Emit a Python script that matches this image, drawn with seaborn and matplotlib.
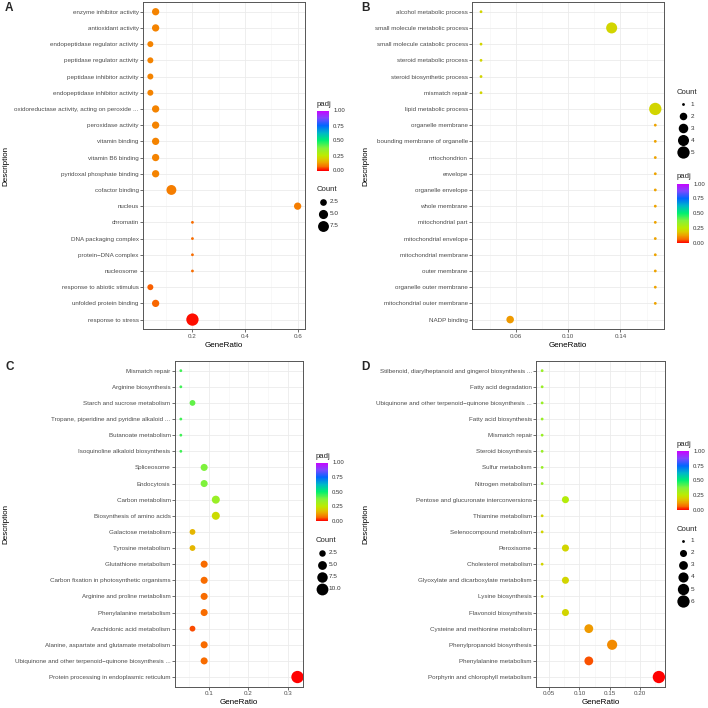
import numpy as np
import pandas as pd
import matplotlib
matplotlib.use('Agg')
import matplotlib.pyplot as plt
import seaborn as sns
from matplotlib.colors import LinearSegmentedColormap, Normalize
from matplotlib.lines import Line2D
from matplotlib.ticker import FixedLocator

# ---- data ----
terms_a = ["enzyme inhibitor activity", "antioxidant activity", "endopeptidase regulator activity",
           "peptidase regulator activity", "peptidase inhibitor activity", "endopeptidase inhibitor activity",
           "oxidoreductase activity, acting on peroxide ...", "peroxidase activity", "vitamin binding",
           "vitamin B6 binding", "pyridoxal phosphate binding", "cofactor binding", "nucleus", "chromatin",
           "DNA packaging complex", "protein\u2212DNA complex", "nucleosome", "response to abiotic stimulus",
           "unfolded protein binding", "response to stress"]
ratio_a = [0.06, 0.06, 0.04, 0.04, 0.04, 0.04, 0.06, 0.06, 0.06, 0.06, 0.06, 0.12, 0.6, 0.2,
           0.2, 0.2, 0.2, 0.04, 0.06, 0.2]
count_a = [3, 3, 2, 2, 2, 2, 3, 3, 3, 3, 3, 6, 3, 1, 1, 1, 1, 2, 3, 10]
padj_a = [0.09, 0.09, 0.09, 0.09, 0.09, 0.09, 0.09, 0.09, 0.09, 0.09, 0.09, 0.085, 0.085, 0.065,
          0.065, 0.065, 0.065, 0.055, 0.06, 0.01]

terms_b = ["alcohol metabolic process", "small molecule metabolic process", "small molecule catabolic process",
           "steroid metabolic process", "steroid biosynthetic process", "mismatch repair",
           "lipid metabolic process", "organelle membrane", "bounding membrane of organelle", "mitochondrion",
           "envelope", "organelle envelope", "whole membrane", "mitochondrial part", "mitochondrial envelope",
           "mitochondrial membrane", "outer membrane", "organelle outer membrane",
           "mitochondrial outer membrane", "NADP binding"]
ratio_b = [0.0333, 0.1333, 0.0333, 0.0333, 0.0333, 0.0333, 0.1667, 0.1667, 0.1667, 0.1667,
           0.1667, 0.1667, 0.1667, 0.1667, 0.1667, 0.1667, 0.1667, 0.1667, 0.1667, 0.0556]
count_b = [1, 4, 1, 1, 1, 1, 5, 1, 1, 1, 1, 1, 1, 1, 1, 1, 1, 1, 1, 2]
padj_b = [0.21, 0.21, 0.21, 0.21, 0.21, 0.21, 0.21, 0.13, 0.13, 0.13, 0.13, 0.13, 0.13, 0.13, 0.13,
          0.13, 0.13, 0.13, 0.13, 0.12]

terms_c = ["Mismatch repair", "Arginine biosynthesis", "Starch and sucrose metabolism",
           "Tropane, piperidine and pyridine alkaloid ...", "Butanoate metabolism",
           "Isoquinoline alkaloid biosynthesis", "Spliceosome", "Endocytosis", "Carbon metabolism",
           "Biosynthesis of amino acids", "Galactose metabolism", "Tyrosine metabolism",
           "Glutathione metabolism", "Carbon fixation in photosynthetic organisms",
           "Arginine and proline metabolism", "Phenylalanine metabolism", "Arachidonic acid metabolism",
           "Alanine, aspartate and glutamate metabolism",
           "Ubiquinone and other terpenoid\u2212quinone biosynthesis ...",
           "Protein processing in endoplasmic reticulum"]
ratio_c = [0.0294, 0.0294, 0.0588, 0.0294, 0.0294, 0.0294, 0.0882, 0.0882, 0.1176, 0.1176,
           0.0588, 0.0588, 0.0882, 0.0882, 0.0882, 0.0882, 0.0588, 0.0882, 0.0882, 0.3235]
count_c = [1, 1, 2, 1, 1, 1, 3, 3, 4, 4, 2, 2, 3, 3, 3, 3, 2, 3, 3, 11]
padj_c = [0.44, 0.44, 0.41, 0.44, 0.44, 0.44, 0.38, 0.38, 0.33, 0.22, 0.16, 0.16, 0.065, 0.065,
          0.065, 0.065, 0.045, 0.065, 0.065, 0.0]

terms_d = ["Stilbenoid, diarylheptanoid and gingerol biosynthesis ...", "Fatty acid degradation",
           "Ubiquinone and other terpenoid\u2212quinone biosynthesis ...", "Fatty acid biosynthesis",
           "Mismatch repair", "Steroid biosynthesis", "Sulfur metabolism", "Nitrogen metabolism",
           "Pentose and glucuronate interconversions", "Thiamine metabolism", "Selenocompound metabolism",
           "Peroxisome", "Cholesterol metabolism", "Glyoxylate and dicarboxylate metabolism",
           "Lysine biosynthesis", "Flavonoid biosynthesis", "Cysteine and methionine metabolism",
           "Phenylpropanoid biosynthesis", "Phenylalanine metabolism", "Porphyrin and chlorophyll metabolism"]
ratio_d = [0.0385, 0.0385, 0.0385, 0.0385, 0.0385, 0.0385, 0.0385, 0.0385, 0.0769, 0.0385,
           0.0385, 0.0769, 0.0385, 0.0769, 0.0385, 0.0769, 0.1154, 0.1538, 0.1154, 0.2308]
count_d = [1, 1, 1, 1, 1, 1, 1, 1, 2, 1, 1, 2, 1, 2, 1, 2, 3, 4, 3, 6]
padj_d = [0.33, 0.33, 0.33, 0.33, 0.33, 0.33, 0.33, 0.33, 0.27, 0.21, 0.21, 0.21, 0.21, 0.21, 0.21, 0.21,
          0.12, 0.10, 0.05, 0.0]

xticks_a = [0.2, 0.4, 0.6]
xticks_b = [0.06, 0.10, 0.14]
xticks_c = [0.1, 0.2, 0.3]
xticks_d = [0.05, 0.10, 0.15, 0.20]
xlabels_a = ['0.2', '0.4', '0.6']
xlabels_b = ['0.06', '0.10', '0.14']
xlabels_c = ['0.1', '0.2', '0.3']
xlabels_d = ['0.05', '0.10', '0.15', '0.20']

count_breaks_a = [2.5, 5.0, 7.5]
count_breaks_b = [1, 2, 3, 4, 5]
count_breaks_c = [2.5, 5.0, 7.5, 10.0]
count_breaks_d = [1, 2, 3, 4, 5, 6]
count_labels_a = ['2.5', '5.0', '7.5']
count_labels_b = ['1', '2', '3', '4', '5']
count_labels_c = ['2.5', '5.0', '7.5', '10.0']
count_labels_d = ['1', '2', '3', '4', '5', '6']

padj_ticks = [0, 0.25, 0.5, 0.75, 1.0]
padj_labels = ['0.00', '0.25', '0.50', '0.75', '1.00']

# ---- style ----
sns.set_theme(style='white')
plt.rcParams['font.family'] = ['Liberation Sans', 'DejaVu Sans']

W = H = 708
def fx(px):
    return px / W

def fy(py):
    return 1 - py / H

cmap = LinearSegmentedColormap.from_list('padj', [
    (0, '#FF0000'), (0.0625, '#F86C00'), (0.125, '#EEA000'), (0.1875, '#DCCB00'),
    (0.25, '#BDEB00'), (0.375, '#84F23A'), (0.5, '#00F070'), (0.625, '#00B8C8'),
    (0.75, '#0066FF'), (0.875, '#8048FF'), (1, '#CC00FF')])


def dot_px(v, lo, hi):
    # ggplot-like area scale, range 1..6
    return 1.9 * (1 + 5 * np.sqrt((v - lo) / (hi - lo))) + 0.9


fig = plt.figure(figsize=(7.08, 7.08), dpi=100)


def draw_panel(rect, letter, letter_xy, terms, ratio, count, padj, xticks, xlabels, ylab_x,
               cbar_box, cbar_title_y, count_title_xy, count_x, count_lab_x, count_y0, breaks, blabels):
    ax = fig.add_axes(rect)
    df = pd.DataFrame({'Description': terms, 'GeneRatio': ratio, 'Count': count, 'padj': padj})
    lo, hi = min(count), max(count)
    sizes = {c: (dot_px(c, lo, hi) * 0.72) ** 2 for c in set(count)}
    sns.scatterplot(data=df, x='GeneRatio', y='Description', hue='padj', palette=cmap,
                    hue_norm=(0, 1), size='Count', sizes=sizes, legend=False,
                    linewidth=0, ax=ax, zorder=3)
    rng = max(ratio) - min(ratio)
    ax.set_xlim(min(ratio) - 0.05 * rng, max(ratio) + 0.05 * rng)
    ax.set_ylim(len(terms) - 0.4, -0.6)
    ax.set_xticks(xticks)
    ax.set_xticklabels(xlabels)
    minor = [t - (xticks[1] - xticks[0]) / 2 for t in xticks] + [xticks[-1] + (xticks[1] - xticks[0]) / 2]
    ax.xaxis.set_minor_locator(FixedLocator(minor))
    ax.set_axisbelow(True)
    ax.grid(True, which='major', color='#ebebeb', lw=0.6)
    ax.grid(True, which='minor', axis='x', color='#f3f3f3', lw=0.4)
    ax.tick_params(which='major', length=2.2, width=0.5, color='#333333', labelsize=4.5,
                   labelcolor='#4d4d4d', pad=1.0, bottom=True, left=True)
    ax.tick_params(which='minor', length=0)
    for s in ax.spines.values():
        s.set_color('#555555')
        s.set_linewidth(0.7)
    ax.set_xlabel('GeneRatio', fontsize=5.8, color='black')
    ax.set_ylabel('Description', fontsize=5.8, color='black')
    bottom_px = (1 - rect[1]) * H
    ax.xaxis.set_label_coords(rect[0] + rect[2] / 2, fy(bottom_px + 16), transform=fig.transFigure)
    ax.xaxis.label.set_va('center')
    ax.yaxis.set_label_coords(fx(ylab_x), rect[1] + rect[3] / 2, transform=fig.transFigure)
    ax.yaxis.label.set_va('center')

    fig.text(fx(letter_xy[0]), fy(letter_xy[1]), letter, fontsize=8.5, fontweight='bold',
             ha='left', va='center')

    # padj colourbar
    x0, y0, x1, y1 = cbar_box
    cax = fig.add_axes([fx(x0), fy(y1), (x1 - x0) / W, (y1 - y0) / H])
    cb = fig.colorbar(plt.cm.ScalarMappable(norm=Normalize(0, 1), cmap=cmap), cax=cax,
                      ticks=padj_ticks)
    cb.ax.set_yticklabels(padj_labels)
    cb.outline.set_visible(False)
    cb.ax.tick_params(direction='in', length=2, width=0.5, color='white', labelsize=4.3,
                      labelcolor='#333333', pad=3, left=True)
    fig.text(fx(x0), fy(cbar_title_y), 'padj', fontsize=5.6, ha='left', va='center')

    # Count legend
    fig.text(fx(count_title_xy[0]), fy(count_title_xy[1]), 'Count', fontsize=5.6,
             ha='left', va='center')
    for i, (b, lab) in enumerate(zip(breaks, blabels)):
        yy = count_y0 + i * 12.1
        fig.add_artist(Line2D([fx(count_x)], [fy(yy)], marker='o', linestyle='none', color='black',
                              markersize=dot_px(b, lo, hi) * 0.72, markeredgewidth=0,
                              transform=fig.transFigure))
        fig.text(fx(count_lab_x), fy(yy), lab, fontsize=4.6, color='#333333', ha='left', va='center')
    return ax


draw_panel([fx(143), fy(329.3), 162 / W, 327.3 / H], 'A', (5, 8), terms_a, ratio_a, count_a, padj_a,
           xticks_a, xlabels_a, 6, (317, 110.5, 329, 170.5), 105, (317, 189.3), 322.7, 330, 201.7,
           count_breaks_a, count_labels_a)
draw_panel([fx(472.3), fy(329.3), 191.7 / W, 327.3 / H], 'B', (361, 8), terms_b, ratio_b, count_b, padj_b,
           xticks_b, xlabels_b, 366, (677, 183.5, 689, 243), 177, (677, 92.3), 683, 690.7, 104,
           count_breaks_b, count_labels_b)
draw_panel([fx(175), fy(686.7), 128.3 / W, 325.7 / H], 'C', (5, 367), terms_c, ratio_c, count_c, padj_c,
           xticks_c, xlabels_c, 6, (316, 462.5, 328, 521), 456, (316, 540.7), 322, 328.3, 552.7,
           count_breaks_c, count_labels_c)
draw_panel([fx(536.3), fy(686.7), 128.4 / W, 325.7 / H], 'D', (361, 367), terms_d, ratio_d, count_d, padj_d,
           xticks_d, xlabels_d, 366, (677, 451, 689, 510), 445, (677, 529.3), 683, 690.7, 540.7,
           count_breaks_d, count_labels_d)

fig.savefig('out.png', dpi=100, facecolor='white')
